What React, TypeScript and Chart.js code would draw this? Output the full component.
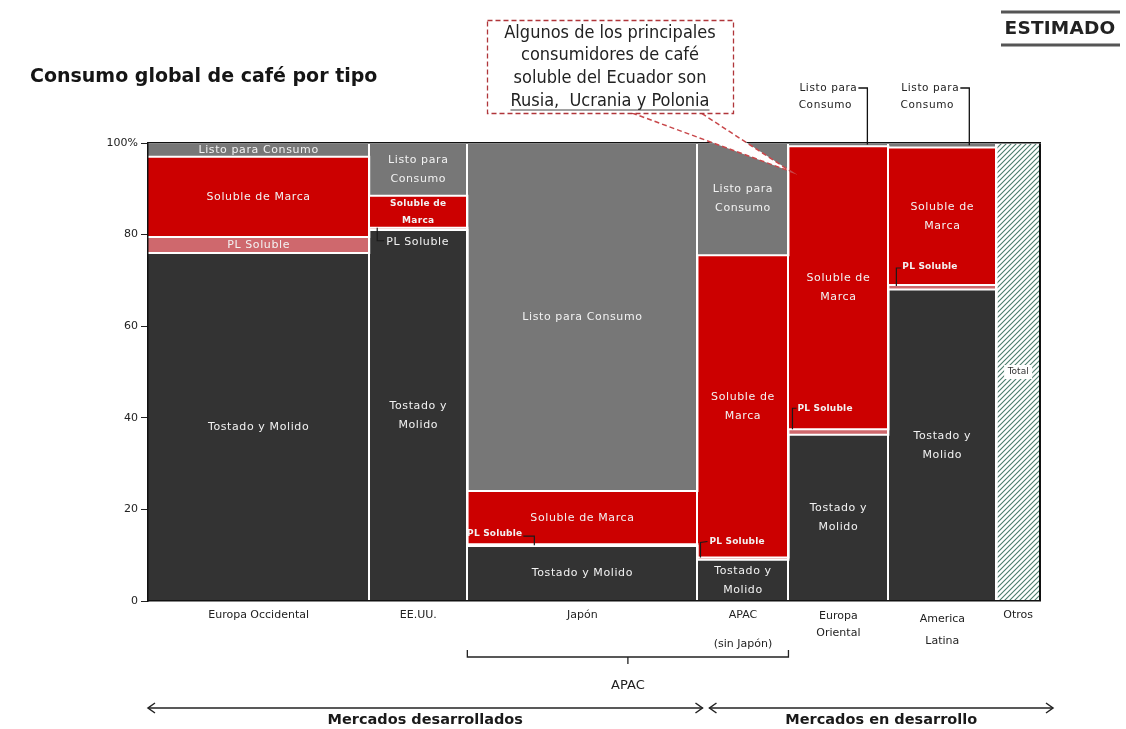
import React, { useEffect, useRef } from "react";
import { Chart, registerables } from "chart.js";

Chart.register(...registerables);

const FONT = "'DejaVu Sans', Verdana, sans-serif";
const FONT_COND = "'DejaVu Sans Condensed', 'DejaVu Sans', sans-serif";

// ---------- data ----------
const categories = ["Europa Occidental", "EE.UU.", "Japón", "APAC (sin Japón)", "Europa Oriental", "America Latina", "Otros"];
const tickLabels = [["Europa Occidental"], ["EE.UU."], ["Japón"], ["APAC", "", "(sin Japón)"], ["Europa", "Oriental"], ["America", "Latina"], ["Otros"]];
const columnShare = [24.8, 11.0, 25.8, 10.2, 11.2, 12.1, 4.9];
const tostadoMolido = [76, 81, 12, 9, 36.3, 68, 0];
const plSoluble = [3.5, 0.5, 0.4, 0.5, 1.2, 1, 0];
const solubleMarca = [17.5, 7, 11.6, 66, 61.8, 30, 0];
const listoConsumo = [3, 11.5, 76, 24.5, 0.7, 1, 0];
const otrosTotal = [0, 0, 0, 0, 0, 0, 100];
const yTicks = [0, 20, 40, 60, 80, 100];

const seriesNames = ["Tostado y Molido", "PL Soluble", "Soluble de Marca", "Listo para Consumo", "Total"];
const seriesValues = [tostadoMolido, plSoluble, solubleMarca, listoConsumo, otrosTotal];
const seriesColors = ["#333333", "#cf686d", "#cc0000", "#777777", "pattern"];

// text shown inside segments (null = none)
const segText: (string | null)[][] = [
  ["Tostado y Molido", "Tostado y\nMolido", "Tostado y Molido", "Tostado y\nMolido", "Tostado y\nMolido", "Tostado y\nMolido", null],
  ["PL Soluble", null, null, null, null, null, null],
  ["Soluble de Marca", "Soluble de\nMarca", "Soluble de Marca", "Soluble de\nMarca", "Soluble de\nMarca", "Soluble de\nMarca", null],
  ["Listo para Consumo", "Listo para\nConsumo", "Listo para Consumo", "Listo para\nConsumo", null, null, null],
];

const calloutLines = ["Algunos de los principales", "consumidores de café", "soluble del Ecuador son", "Rusia,  Ucrania y Polonia"];

// ---------- derived ----------
const bounds: number[] = [0];
columnShare.forEach((w) => bounds.push(Math.round((bounds[bounds.length - 1] + w) * 1000) / 1000));
const centers = columnShare.map((_, i) => (bounds[i] + bounds[i + 1]) / 2);
const cum = seriesValues.map((_, k) =>
  categories.map((_, i) => seriesValues.slice(0, k + 1).reduce((s, arr) => s + arr[i], 0))
);

function drawText(ctx: CanvasRenderingContext2D, text: string, x: number, y: number, o: any = {}) {
  const { size = 11, bold = false, color = "#f2f2f2", align = "center", spacing = 0.6, lh = 19, family = FONT } = o;
  ctx.save();
  ctx.font = `${bold ? "bold " : ""}${size}px ${family}`;
  ctx.fillStyle = color;
  ctx.textAlign = align;
  ctx.textBaseline = "middle";
  try { (ctx as any).letterSpacing = spacing + "px"; } catch (e) {}
  const lines = text.split("\n");
  lines.forEach((ln, j) => ctx.fillText(ln, x, y + (j - (lines.length - 1) / 2) * lh));
  ctx.restore();
}

function line(ctx: CanvasRenderingContext2D, pts: number[][], color = "#1a1a1a", w = 1.2) {
  ctx.save();
  ctx.strokeStyle = color;
  ctx.lineWidth = w;
  ctx.beginPath();
  pts.forEach((p, i) => (i ? ctx.lineTo(p[0], p[1]) : ctx.moveTo(p[0], p[1])));
  ctx.stroke();
  ctx.restore();
}

const overlayPlugin = {
  id: "overlay",
  afterDraw(chart: any) {
    const ctx: CanvasRenderingContext2D = chart.ctx;
    const xs = chart.scales.x;
    const ys = chart.scales.y;
    const px = (v: number) => xs.getPixelForValue(v);
    const py = (v: number) => ys.getPixelForValue(v);
    const colL = (i: number) => px(bounds[i]);
    const colW = (i: number) => px(bounds[i + 1]) - px(bounds[i]);

    // segment labels
    for (let k = 0; k < 4; k++) {
      for (let i = 0; i < categories.length; i++) {
        const t = segText[k][i];
        if (!t) continue;
        const lo = k === 0 ? 0 : cum[k - 1][i];
        const hi = cum[k][i];
        const style = k === 2 && i === 1 ? { size: 9, bold: true, lh: 17, spacing: 0.3 } : {};
        drawText(ctx, t, px(centers[i]), py((lo + hi) / 2), style);
      }
    }

    // Otros "Total"
    {
      const cx = px(centers[6]);
      const cy = py(otrosTotal[6] / 2);
      ctx.save();
      ctx.fillStyle = "#ffffff";
      ctx.fillRect(cx - 14, cy - 7, 28, 14);
      ctx.restore();
      drawText(ctx, seriesNames[4], cx, cy, { size: 9, color: "#333", spacing: 0 });
    }

    // PL Soluble leaders
    const plTop = (i: number) => py(cum[1][i]);
    {
      const x0 = colL(1) + 8, yb = plTop(1);
      line(ctx, [[x0, yb], [x0, yb + 13], [x0 + 7, yb + 13]]);
      drawText(ctx, "PL Soluble", x0 + 9, yb + 14, { align: "left" });
    }
    {
      const x0 = colL(2), yb = plTop(2);
      line(ctx, [[x0 + 56, yb - 8], [x0 + 67, yb - 8], [x0 + 67, yb + 1]]);
      drawText(ctx, "PL Soluble", x0 + 55, yb - 11, { align: "right", size: 9, bold: true, spacing: 0.2 });
    }
    {
      const x0 = colL(3) + 3, yb = plTop(3);
      line(ctx, [[x0, yb], [x0, yb - 15], [x0 + 7, yb - 16]]);
      drawText(ctx, "PL Soluble", x0 + 9, yb - 16, { align: "left", size: 9, bold: true, spacing: 0.2 });
    }
    {
      const x0 = colL(4) + 4, yb = plTop(4);
      line(ctx, [[x0, yb], [x0, yb - 21], [x0 + 4, yb - 21]]);
      drawText(ctx, "PL Soluble", x0 + 5, yb - 21, { align: "left", size: 9, bold: true, spacing: 0.2 });
    }
    {
      const x0 = colL(5) + 8, yb = plTop(5);
      line(ctx, [[x0, yb + 1], [x0, yb - 17], [x0 + 5, yb - 17]]);
      drawText(ctx, "PL Soluble", x0 + 6, yb - 18, { align: "left", size: 9, bold: true, spacing: 0.2 });
    }

    // Listo para Consumo leaders above the chart
    [[4, 0.79], [5, 0.75]].forEach(([i, f]) => {
      const lx = colL(i) + colW(i) * f;
      const yTop = py(cum[2][i] + listoConsumo[i] / 2);
      line(ctx, [[lx - 9, 88], [lx, 88], [lx, yTop]], "#111", 1.3);
      drawText(ctx, "Listo para", lx - 10, 88, { align: "right", size: 10.5, color: "#222", spacing: 0.6 });
      drawText(ctx, "Consumo", lx - 42, 105, { size: 10.5, color: "#222", spacing: 0.6 });
    });

    // callout wedge
    {
      const tipX = colL(4) + 3;
      const tipY = py(93.7);
      ctx.save();
      ctx.fillStyle = "#ffffff";
      ctx.beginPath();
      ctx.moveTo(632, 113);
      ctx.lineTo(tipX, tipY);
      ctx.lineTo(701, 113);
      ctx.closePath();
      ctx.fill();
      ctx.strokeStyle = "#c8474a";
      ctx.lineWidth = 1.5;
      ctx.setLineDash([5, 3]);
      ctx.beginPath();
      ctx.moveTo(632, 113);
      ctx.lineTo(tipX, tipY);
      ctx.lineTo(701, 113);
      ctx.stroke();
      ctx.restore();
    }
    // callout box
    {
      ctx.save();
      ctx.fillStyle = "#ffffff";
      ctx.fillRect(487, 20, 246, 93);
      ctx.strokeStyle = "#b0353a";
      ctx.lineWidth = 1.3;
      ctx.setLineDash([5, 3]);
      ctx.strokeRect(487.5, 20.5, 246, 93);
      ctx.restore();
      calloutLines.forEach((t, j) =>
        drawText(ctx, t, 610, 33 + j * 22.7, { size: 18, color: "#222", spacing: 0, family: FONT_COND })
      );
      ctx.save();
      ctx.font = `18px ${FONT_COND}`;
      const w = ctx.measureText(calloutLines[3]).width;
      ctx.restore();
      line(ctx, [[610 - w / 2, 110], [610 + w / 2, 110]], "#444", 1);
    }

    // title
    drawText(ctx, "Consumo global de café por tipo", 30, 77, { size: 19, bold: true, color: "#151515", align: "left", spacing: 0 });

    // ESTIMADO
    drawText(ctx, "ESTIMADO", 1060, 29, { size: 18.5, bold: true, color: "#222", spacing: 0.2 });
    line(ctx, [[1001, 12], [1120, 12]], "#555", 3);
    line(ctx, [[1001, 45], [1120, 45]], "#555", 3);

    // APAC bracket
    {
      const a = colL(2), b = px(bounds[4]), m = (a + b) / 2;
      line(ctx, [[a, 650], [a, 657], [b, 657], [b, 650]], "#222", 1.3);
      line(ctx, [[m, 657], [m, 664]], "#222", 1.3);
      drawText(ctx, "APAC", m, 686, { size: 13, color: "#222", spacing: 0 });
    }

    // market arrows
    const arrow = (x1: number, x2: number, y: number) => {
      line(ctx, [[x1, y], [x2, y]], "#222", 1.5);
      line(ctx, [[x1 + 7, y - 5], [x1, y], [x1 + 7, y + 5]], "#222", 1.5);
      line(ctx, [[x2 - 7, y - 5], [x2, y], [x2 - 7, y + 5]], "#222", 1.5);
    };
    const split = colL(3);
    const a1 = px(0), a2 = split + 5, a3 = split + 12, a4 = px(100) + 13;
    arrow(a1, a2, 708);
    arrow(a3, a4, 708);
    drawText(ctx, "Mercados desarrollados", (a1 + a2) / 2, 720, { size: 14.5, bold: true, color: "#1a1a1a", spacing: 0 });
    drawText(ctx, "Mercados en desarrollo", (a3 + a4) / 2, 720, { size: 14.5, bold: true, color: "#1a1a1a", spacing: 0 });
  },
};

function makePattern(): CanvasPattern | string {
  const c = document.createElement("canvas");
  c.width = 5;
  c.height = 5;
  const g = c.getContext("2d");
  if (!g) return "#6a9a8a";
  g.fillStyle = "#ffffff";
  g.fillRect(0, 0, 5, 5);
  g.strokeStyle = "#4a7c6c";
  g.lineWidth = 1.1;
  g.beginPath();
  g.moveTo(0, 5); g.lineTo(5, 0);
  g.moveTo(-2.5, 2.5); g.lineTo(2.5, -2.5);
  g.moveTo(2.5, 7.5); g.lineTo(7.5, 2.5);
  g.stroke();
  return g.createPattern(c, "repeat") || "#6a9a8a";
}

export default function App() {
  const ref = useRef<HTMLCanvasElement>(null);
  useEffect(() => {
    const canvas = ref.current;
    if (!canvas) return;
    const pattern = makePattern();
    const datasets = seriesNames.map((name, k) => ({
      label: name,
      data: categories.flatMap((_, i) => [
        { x: bounds[i], y: cum[k][i] },
        { x: bounds[i + 1], y: cum[k][i] },
      ]),
      borderColor: "#ffffff",
      borderWidth: 2,
      pointRadius: 0,
      tension: 0,
      backgroundColor: seriesColors[k] === "pattern" ? pattern : seriesColors[k],
      fill: k === 0 ? "origin" : "-1",
    }));
    const chart = new Chart(canvas, {
      type: "line",
      data: { datasets } as any,
      plugins: [overlayPlugin],
      options: {
        animation: false,
        responsive: true,
        maintainAspectRatio: false,
        devicePixelRatio: 1,
        events: [],
        layout: { padding: { left: 0, top: 143, right: 86, bottom: 68 } },
        plugins: {
          legend: { display: false },
          tooltip: { enabled: false },
          filler: { drawTime: "beforeDatasetsDraw" },
        } as any,
        scales: {
          x: {
            type: "linear",
            position: "bottom",
            min: 0,
            max: 100,
            afterBuildTicks: (axis: any) => { axis.ticks = centers.map((v) => ({ value: v })); },
            afterFit: (axis: any) => { axis.height = 60; },
            grid: { display: false, drawTicks: false },
            border: { display: true, color: "#111", width: 1.5, z: 2 },
            ticks: {
              autoSkip: false,
              maxRotation: 0,
              padding: 7,
              color: "#222",
              font: (c: any) => ({
                family: FONT,
                size: 11,
                lineHeight: c.index === 5 ? 2.0 : c.index === 4 ? 1.5 : 1.3,
              }),
              callback: (_v: any, i: number) => tickLabels[i],
            },
          },
          xb: {
            type: "linear",
            position: "top",
            min: 0,
            max: 100,
            afterBuildTicks: (axis: any) => { axis.ticks = bounds.map((v) => ({ value: v })); },
            afterFit: (axis: any) => { axis.height = 0; },
            ticks: { display: false },
            grid: {
              z: 1,
              drawTicks: false,
              lineWidth: 2,
              color: (c: any) =>
                c.index === 0 ? "rgba(0,0,0,0)" : c.index === bounds.length - 1 ? "#111" : "#ffffff",
            },
            border: { display: true, color: "#111", width: 1.5, z: 2 },
          },
          y: {
            type: "linear",
            min: 0,
            max: 100,
            afterBuildTicks: (axis: any) => { axis.ticks = yTicks.map((v) => ({ value: v })); },
            afterFit: (axis: any) => { axis.width = 148; },
            grid: { drawOnChartArea: false, drawTicks: true, tickLength: 7, color: "#222" },
            border: { display: true, color: "#111", width: 1.5, z: 2 },
            ticks: {
              padding: 3,
              color: "#222",
              font: { family: FONT, size: 11 },
              callback: (v: any) => (v === 100 ? "100%" : String(v)),
            },
          },
        } as any,
      },
    });
    return () => chart.destroy();
  }, []);
  return (
    <div style={{ position: "fixed", left: 0, top: 0, width: 1126, height: 729, background: "#ffffff" }}>
      <canvas ref={ref} />
    </div>
  );
}
